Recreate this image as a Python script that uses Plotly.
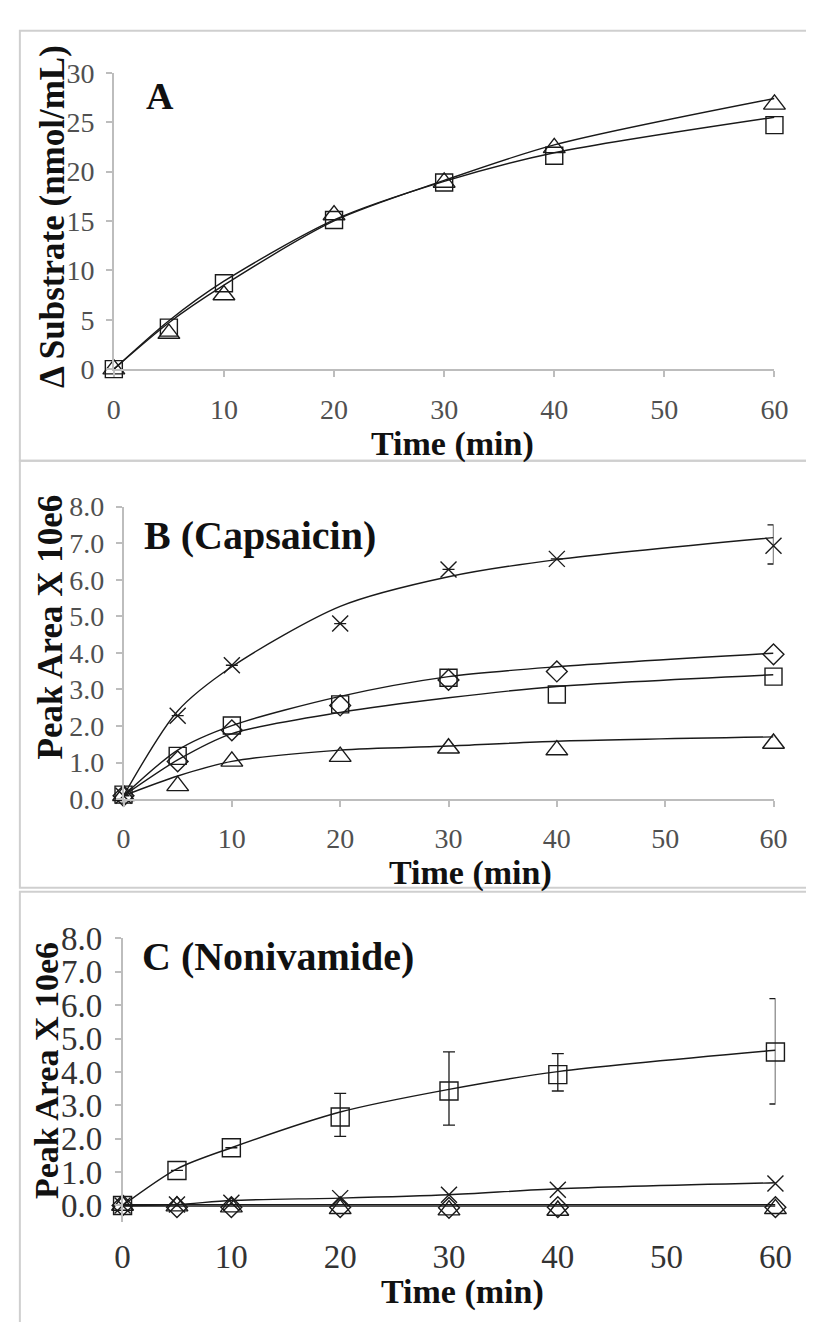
import plotly.graph_objects as go

# The page adds an 8px body margin, so the figure is drawn 16px smaller and
# reference pixel positions are shifted by 8px.
PAGE_W, PAGE_H = 814, 1330
M = 8
W, H = PAGE_W - 2 * M, PAGE_H - 2 * M

# ---------------- data ----------------
time = [0, 5, 10, 20, 30, 40, 60]

# Panel A
a_square = [0.0, 4.2, 8.7, 15.1, 18.9, 21.6, 24.7]
a_square_fit = [0.0, 4.9, 8.9, 15.1, 19.0, 21.9, 25.5]
a_triangle = [0.0, 3.6, 7.5, 15.6, 18.9, 22.4, 26.8]
a_triangle_fit = [0.0, 4.7, 8.5, 15.0, 19.1, 22.7, 27.4]

# Panel B (Capsaicin)
b_cross = [0.09, 2.28, 3.66, 4.8, 6.28, 6.57, 6.93]
b_cross_fit = [0.09, 2.41, 3.62, 5.27, 6.08, 6.55, 7.15]
b_cross_err_plus = [None, None, None, None, None, None, 0.57]
b_cross_err_minus = [None, None, None, None, None, None, 0.5]
b_diamond = [0.09, 1.03, 1.88, 2.56, 3.26, 3.49, 3.96]
b_diamond_fit = [0.09, 1.34, 2.01, 2.81, 3.35, 3.62, 3.99]
b_square = [0.12, 1.18, 2.01, 2.59, 3.32, 2.86, 3.35]
b_square_fit = [0.09, 1.07, 1.79, 2.37, 2.77, 3.08, 3.4]
b_triangle = [0.09, 0.36, 1.03, 1.16, 1.39, 1.34, 1.52]
b_triangle_fit = [0.09, 0.63, 1.03, 1.34, 1.45, 1.58, 1.7]

# Panel C (Nonivamide)
c_square = [0.0, 1.05, 1.73, 2.65, 3.43, 3.92, 4.6]
c_square_fit = [0.0, 1.1, 1.73, 2.8, 3.48, 4.01, 4.65]
c_square_err_plus = [None, None, None, 0.71, 1.17, 0.63, 1.6]
c_square_err_minus = [None, None, None, 0.58, 1.02, 0.49, 1.56]
c_cross = [0.0, 0.03, 0.08, 0.22, 0.32, 0.47, 0.66]
c_cross_fit = [0.0, 0.03, 0.15, 0.22, 0.32, 0.5, 0.68]
c_diamond = [0.0, -0.05, -0.05, -0.05, -0.07, -0.05, -0.05]
c_diamond_fit = [0.02, 0.02, 0.02, 0.02, 0.02, 0.02, 0.02]
c_triangle = [0.0, -0.02, -0.05, -0.1, -0.14, -0.15, -0.1]
c_triangle_fit = [-0.02, -0.02, -0.02, -0.02, -0.02, -0.02, -0.02]

x_ticks = [0, 10, 20, 30, 40, 50, 60]
a_yticks = [0, 5, 10, 15, 20, 25, 30]
bc_yticks = [0, 1, 2, 3, 4, 5, 6, 7, 8]
bc_yticklabels = ["0.0", "1.0", "2.0", "3.0", "4.0", "5.0", "6.0", "7.0", "8.0"]

# ---------------- figure ----------------
FONT = "Liberation Serif"
LINE = "#1a1a1a"
AXIS = "#bdbdbd"

fig = go.Figure()


def add_series(xa, ya, y, yfit, symbol, size, err_plus=None, err_minus=None):
    fig.add_trace(go.Scatter(
        x=time, y=yfit, mode="lines", xaxis=xa, yaxis=ya,
        line=dict(color=LINE, width=1.4, shape="spline", smoothing=0.8),
        showlegend=False, hoverinfo="skip", cliponaxis=False))
    kw = {}
    if err_plus is not None:
        kw["error_y"] = dict(type="data", array=err_plus, arrayminus=err_minus,
                             symmetric=False, color=LINE, thickness=1.3, width=6)
    fig.add_trace(go.Scatter(
        x=time, y=y, mode="markers", xaxis=xa, yaxis=ya,
        marker=dict(symbol=symbol, size=size, color=LINE,
                    line=dict(color=LINE, width=1.4)),
        showlegend=False, cliponaxis=False, **kw))


# Panel A
add_series("x", "y", a_square, a_square_fit, "square-open", 17)
add_series("x", "y", a_triangle, a_triangle_fit, "triangle-up-open", 19)

# Panel B
add_series("x2", "y2", b_cross, b_cross_fit, "x-thin-open", 16, b_cross_err_plus, b_cross_err_minus)
add_series("x2", "y2", b_diamond, b_diamond_fit, "diamond-open", 16)
add_series("x2", "y2", b_square, b_square_fit, "square-open", 17)
add_series("x2", "y2", b_triangle, b_triangle_fit, "triangle-up-open", 19)

# Panel C
add_series("x3", "y3", c_diamond, c_diamond_fit, "diamond-open", 16)
add_series("x3", "y3", c_triangle, c_triangle_fit, "triangle-up-open", 19)
add_series("x3", "y3", c_cross, c_cross_fit, "x-thin-open", 16)
add_series("x3", "y3", c_square, c_square_fit, "square-open", 18, c_square_err_plus, c_square_err_minus)


def px_x(p):
    return (p - M) / W


def px_y(p):
    return 1 - (p - M) / H


def xaxis_common(domain, font_size, color, standoff, show_line=True):
    return dict(
        domain=domain, range=[0, 60], tickvals=x_ticks, ticktext=[str(v) for v in x_ticks],
        showgrid=False, zeroline=False, showline=show_line, linecolor=AXIS, linewidth=1.5,
        ticks="outside" if show_line else "", ticklen=6, tickcolor=AXIS, tickwidth=1.5,
        tickfont=dict(family=FONT, size=font_size, color=color),
        ticklabelstandoff=standoff, fixedrange=True)


def yaxis_common(domain, rng, tickvals, ticktext, font_size, color, standoff):
    return dict(
        domain=domain, range=rng, tickvals=tickvals, ticktext=ticktext,
        showgrid=False, zeroline=False, showline=True, linecolor=AXIS, linewidth=1.5,
        ticks="outside", ticklen=6, tickcolor=AXIS, tickwidth=1.5,
        tickfont=dict(family=FONT, size=font_size, color=color),
        ticklabelstandoff=standoff, fixedrange=True)


fig.update_layout(
    width=W, height=H, margin=dict(l=0, r=0, t=0, b=0),
    paper_bgcolor="white", plot_bgcolor="white", showlegend=False,
    xaxis=dict(xaxis_common([px_x(109), px_x(791)], 28, "#505050", 9), anchor="y"),
    yaxis=dict(yaxis_common([px_y(361), px_y(57)], [0, 30], a_yticks,
                            [str(v) for v in a_yticks], 28, "#505050", 6), anchor="x"),
    xaxis2=dict(xaxis_common([px_x(119), px_x(790)], 28, "#505050", 8), anchor="y2"),
    yaxis2=dict(yaxis_common([px_y(802), px_y(502)], [0, 8], bc_yticks,
                             bc_yticklabels, 28, "#505050", 6), anchor="x2"),
    xaxis3=dict(xaxis_common([px_x(118), px_x(792)], 33, "#333333", 12, show_line=False), anchor="y3"),
    yaxis3=dict(yaxis_common([px_y(1236), px_y(945)], [-0.5, 8], bc_yticks,
                             bc_yticklabels, 33, "#333333", 6), anchor="x3"),
)

# Panel frames
for top, bottom in [(14, 455), (455, 893), (897, 1340)]:
    fig.add_shape(type="rect", xref="paper", yref="paper",
                  x0=px_x(12), x1=px_x(830), y0=px_y(bottom), y1=px_y(top),
                  line=dict(color="#cfcfcf", width=2), layer="below")


def ann(text, x, y, size, angle=0, xanchor="center"):
    fig.add_annotation(text=text, x=px_x(x), y=px_y(y), xref="paper", yref="paper",
                       showarrow=False, textangle=angle, xanchor=xanchor, yanchor="middle",
                       font=dict(family=FONT, size=size, color="#111111"))


# Panel labels
ann("<b>A</b>", 140, 81, 38, xanchor="left")
ann("<b>B (Capsaicin)</b>", 138, 532, 40, xanchor="left")
ann("<b>C (Nonivamide)</b>", 136, 963, 40, xanchor="left")

# Axis titles
ann("<b>Δ Substrate (nmol/mL)</b>", 45, 204, 35, angle=-90)
ann("<b>Time (min)</b>", 459, 438, 34)
ann("<b>Peak Area X 10e6</b>", 44, 625, 35, angle=-90)
ann("<b>Time (min)</b>", 477, 878, 34)
ann("<b>Peak Area X 10e6</b>", 39, 1081, 34, angle=-90)
ann("<b>Time (min)</b>", 469, 1308, 34)

fig.write_html("out.html")
